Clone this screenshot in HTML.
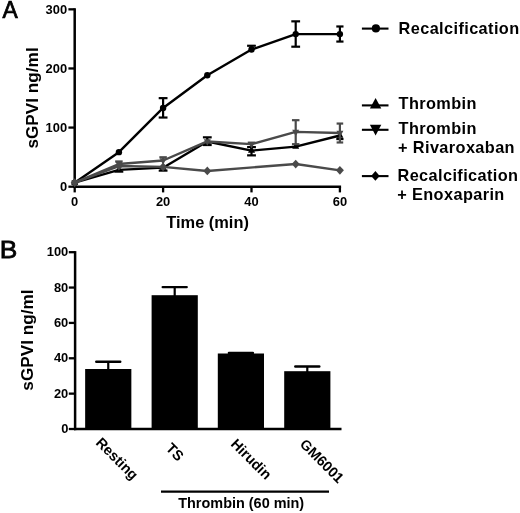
<!DOCTYPE html>
<html><head><meta charset="utf-8"><style>
html,body{margin:0;padding:0;background:#fff;}
body{width:520px;height:513px;overflow:hidden;font-family:"Liberation Sans",sans-serif;}
svg{display:block;will-change:transform;}
</style></head><body>
<svg width="520" height="513" viewBox="0 0 520 513" style="font-family:'Liberation Sans',sans-serif">
<text transform="translate(2.6,17.7) scale(0.93,1)" font-size="24.6" font-family="Liberation Sans, sans-serif" stroke="#000" stroke-width="0.75" stroke-linejoin="miter">A</text>
<line x1="74.7" y1="8.240000000000004" x2="74.7" y2="187.89999999999998" stroke="#000" stroke-width="2.5"/>
<line x1="73.5" y1="186.7" x2="341.09999999999997" y2="186.7" stroke="#000" stroke-width="2.5"/>
<line x1="68.4" y1="186.70" x2="74.7" y2="186.70" stroke="#000" stroke-width="2.3"/>
<text x="67.10000000000001" y="191.10" font-size="12.9" font-family="Liberation Sans, sans-serif" font-weight="bold" text-anchor="end">0</text>
<line x1="68.4" y1="127.58" x2="74.7" y2="127.58" stroke="#000" stroke-width="2.3"/>
<text x="67.10000000000001" y="131.98" font-size="12.9" font-family="Liberation Sans, sans-serif" font-weight="bold" text-anchor="end">100</text>
<line x1="68.4" y1="68.46" x2="74.7" y2="68.46" stroke="#000" stroke-width="2.3"/>
<text x="67.10000000000001" y="72.86" font-size="12.9" font-family="Liberation Sans, sans-serif" font-weight="bold" text-anchor="end">200</text>
<line x1="68.4" y1="9.34" x2="74.7" y2="9.34" stroke="#000" stroke-width="2.3"/>
<text x="67.10000000000001" y="13.74" font-size="12.9" font-family="Liberation Sans, sans-serif" font-weight="bold" text-anchor="end">300</text>
<line x1="74.70" y1="186.7" x2="74.70" y2="192.39999999999998" stroke="#000" stroke-width="2.3"/>
<text x="74.70" y="205.8" font-size="12.9" font-family="Liberation Sans, sans-serif" font-weight="bold" text-anchor="middle">0</text>
<line x1="163.10" y1="186.7" x2="163.10" y2="192.39999999999998" stroke="#000" stroke-width="2.3"/>
<text x="163.10" y="205.8" font-size="12.9" font-family="Liberation Sans, sans-serif" font-weight="bold" text-anchor="middle">20</text>
<line x1="251.50" y1="186.7" x2="251.50" y2="192.39999999999998" stroke="#000" stroke-width="2.3"/>
<text x="251.50" y="205.8" font-size="12.9" font-family="Liberation Sans, sans-serif" font-weight="bold" text-anchor="middle">40</text>
<line x1="339.90" y1="186.7" x2="339.90" y2="192.39999999999998" stroke="#000" stroke-width="2.3"/>
<text x="339.90" y="205.8" font-size="12.9" font-family="Liberation Sans, sans-serif" font-weight="bold" text-anchor="middle">60</text>
<text x="207.6" y="228.2" font-size="16.4" font-family="Liberation Sans, sans-serif" font-weight="bold" text-anchor="middle">Time (min)</text>
<text transform="translate(37.7,97.95) rotate(-90)" font-size="17.2" font-family="Liberation Sans, sans-serif" font-weight="bold" text-anchor="middle">sGPVI ng/ml</text>
<polyline points="74.70,182.68 118.90,152.17 163.10,107.95 207.30,75.20 251.50,49.54 295.70,34.11 339.90,34.11" fill="none" stroke="#000000" stroke-width="2.4" stroke-linejoin="round"/>
<line x1="163.10" y1="107.95" x2="163.10" y2="98.14" stroke="#000000" stroke-width="2.2"/>
<line x1="158.70" y1="98.14" x2="167.50" y2="98.14" stroke="#000000" stroke-width="2.2"/>
<line x1="163.10" y1="107.95" x2="163.10" y2="117.53" stroke="#000000" stroke-width="2.2"/>
<line x1="158.70" y1="117.53" x2="167.50" y2="117.53" stroke="#000000" stroke-width="2.2"/>
<line x1="251.50" y1="49.54" x2="251.50" y2="45.76" stroke="#000000" stroke-width="2.2"/>
<line x1="247.10" y1="45.76" x2="255.90" y2="45.76" stroke="#000000" stroke-width="2.2"/>
<line x1="295.70" y1="34.11" x2="295.70" y2="21.34" stroke="#000000" stroke-width="2.2"/>
<line x1="291.30" y1="21.34" x2="300.10" y2="21.34" stroke="#000000" stroke-width="2.2"/>
<line x1="295.70" y1="34.11" x2="295.70" y2="46.70" stroke="#000000" stroke-width="2.2"/>
<line x1="291.30" y1="46.70" x2="300.10" y2="46.70" stroke="#000000" stroke-width="2.2"/>
<line x1="339.90" y1="34.11" x2="339.90" y2="26.48" stroke="#000000" stroke-width="2.2"/>
<line x1="336.30" y1="26.48" x2="343.50" y2="26.48" stroke="#000000" stroke-width="2.2"/>
<line x1="339.90" y1="34.11" x2="339.90" y2="41.56" stroke="#000000" stroke-width="2.2"/>
<line x1="336.30" y1="41.56" x2="343.50" y2="41.56" stroke="#000000" stroke-width="2.2"/>
<circle cx="74.70" cy="182.68" r="3.2" fill="#000000"/>
<circle cx="118.90" cy="152.17" r="3.2" fill="#000000"/>
<circle cx="163.10" cy="107.95" r="3.2" fill="#000000"/>
<circle cx="207.30" cy="75.20" r="3.2" fill="#000000"/>
<circle cx="251.50" cy="49.54" r="3.2" fill="#000000"/>
<circle cx="295.70" cy="34.11" r="3.2" fill="#000000"/>
<circle cx="339.90" cy="34.11" r="3.2" fill="#000000"/>
<polyline points="74.70,182.68 118.90,169.85 163.10,167.66 207.30,141.47 251.50,150.64 295.70,146.62 339.90,135.50" fill="none" stroke="#000000" stroke-width="2.4" stroke-linejoin="round"/>
<line x1="118.90" y1="169.85" x2="118.90" y2="171.62" stroke="#000000" stroke-width="2.2"/>
<line x1="114.50" y1="171.62" x2="123.30" y2="171.62" stroke="#000000" stroke-width="2.2"/>
<line x1="163.10" y1="167.66" x2="163.10" y2="170.62" stroke="#000000" stroke-width="2.2"/>
<line x1="158.70" y1="170.62" x2="167.50" y2="170.62" stroke="#000000" stroke-width="2.2"/>
<line x1="207.30" y1="141.47" x2="207.30" y2="137.33" stroke="#000000" stroke-width="2.2"/>
<line x1="202.90" y1="137.33" x2="211.70" y2="137.33" stroke="#000000" stroke-width="2.2"/>
<line x1="207.30" y1="141.47" x2="207.30" y2="145.02" stroke="#000000" stroke-width="2.2"/>
<line x1="202.90" y1="145.02" x2="211.70" y2="145.02" stroke="#000000" stroke-width="2.2"/>
<line x1="251.50" y1="150.64" x2="251.50" y2="147.09" stroke="#000000" stroke-width="2.2"/>
<line x1="247.10" y1="147.09" x2="255.90" y2="147.09" stroke="#000000" stroke-width="2.2"/>
<line x1="251.50" y1="150.64" x2="251.50" y2="155.37" stroke="#000000" stroke-width="2.2"/>
<line x1="247.10" y1="155.37" x2="255.90" y2="155.37" stroke="#000000" stroke-width="2.2"/>
<line x1="339.90" y1="135.50" x2="339.90" y2="139.05" stroke="#000000" stroke-width="2.2"/>
<line x1="336.30" y1="139.05" x2="343.50" y2="139.05" stroke="#000000" stroke-width="2.2"/>
<path d="M71.20,184.85 L78.20,184.85 L74.70,178.35Z" fill="#000000"/>
<path d="M115.40,172.02 L122.40,172.02 L118.90,165.52Z" fill="#000000"/>
<path d="M159.60,169.83 L166.60,169.83 L163.10,163.33Z" fill="#000000"/>
<path d="M203.80,143.64 L210.80,143.64 L207.30,137.14Z" fill="#000000"/>
<path d="M248.00,152.80 L255.00,152.80 L251.50,146.30Z" fill="#000000"/>
<path d="M292.20,148.78 L299.20,148.78 L295.70,142.28Z" fill="#000000"/>
<path d="M336.40,137.67 L343.40,137.67 L339.90,131.17Z" fill="#000000"/>
<polyline points="74.70,182.68 118.90,164.00 163.10,160.51 207.30,141.47 251.50,144.13 295.70,131.90 339.90,133.02" fill="none" stroke="#4a4a4a" stroke-width="2.4" stroke-linejoin="round"/>
<line x1="118.90" y1="164.00" x2="118.90" y2="161.46" stroke="#4a4a4a" stroke-width="2.2"/>
<line x1="115.15" y1="161.46" x2="122.65" y2="161.46" stroke="#4a4a4a" stroke-width="2.2"/>
<line x1="163.10" y1="160.51" x2="163.10" y2="157.26" stroke="#4a4a4a" stroke-width="2.2"/>
<line x1="159.35" y1="157.26" x2="166.85" y2="157.26" stroke="#4a4a4a" stroke-width="2.2"/>
<line x1="251.50" y1="144.13" x2="251.50" y2="142.66" stroke="#4a4a4a" stroke-width="2.2"/>
<line x1="247.75" y1="142.66" x2="255.25" y2="142.66" stroke="#4a4a4a" stroke-width="2.2"/>
<line x1="295.70" y1="131.90" x2="295.70" y2="120.19" stroke="#4a4a4a" stroke-width="2.2"/>
<line x1="291.95" y1="120.19" x2="299.45" y2="120.19" stroke="#4a4a4a" stroke-width="2.2"/>
<line x1="295.70" y1="131.90" x2="295.70" y2="144.19" stroke="#4a4a4a" stroke-width="2.2"/>
<line x1="291.95" y1="144.19" x2="299.45" y2="144.19" stroke="#4a4a4a" stroke-width="2.2"/>
<line x1="339.90" y1="133.02" x2="339.90" y2="123.56" stroke="#4a4a4a" stroke-width="2.2"/>
<line x1="336.60" y1="123.56" x2="343.20" y2="123.56" stroke="#4a4a4a" stroke-width="2.2"/>
<line x1="339.90" y1="133.02" x2="339.90" y2="142.48" stroke="#4a4a4a" stroke-width="2.2"/>
<line x1="336.60" y1="142.48" x2="343.20" y2="142.48" stroke="#4a4a4a" stroke-width="2.2"/>
<path d="M71.20,180.51 L78.20,180.51 L74.70,187.01Z" fill="#4a4a4a"/>
<path d="M115.40,161.83 L122.40,161.83 L118.90,168.33Z" fill="#4a4a4a"/>
<path d="M159.60,158.34 L166.60,158.34 L163.10,164.84Z" fill="#4a4a4a"/>
<path d="M203.80,139.31 L210.80,139.31 L207.30,145.81Z" fill="#4a4a4a"/>
<path d="M248.00,141.97 L255.00,141.97 L251.50,148.47Z" fill="#4a4a4a"/>
<path d="M292.20,129.73 L299.20,129.73 L295.70,136.23Z" fill="#4a4a4a"/>
<path d="M336.40,130.85 L343.40,130.85 L339.90,137.35Z" fill="#4a4a4a"/>
<polyline points="74.70,182.68 118.90,166.01 163.10,166.89 207.30,170.97 295.70,164.06 339.90,170.32" fill="none" stroke="#4a4a4a" stroke-width="2.4" stroke-linejoin="round"/>
<path d="M70.70,182.68 L74.70,178.28 L78.70,182.68 L74.70,187.08Z" fill="#4a4a4a"/>
<path d="M114.90,166.01 L118.90,161.61 L122.90,166.01 L118.90,170.41Z" fill="#4a4a4a"/>
<path d="M159.10,166.89 L163.10,162.49 L167.10,166.89 L163.10,171.29Z" fill="#4a4a4a"/>
<path d="M203.30,170.97 L207.30,166.57 L211.30,170.97 L207.30,175.37Z" fill="#4a4a4a"/>
<path d="M291.70,164.06 L295.70,159.66 L299.70,164.06 L295.70,168.46Z" fill="#4a4a4a"/>
<path d="M335.90,170.32 L339.90,165.92 L343.90,170.32 L339.90,174.72Z" fill="#4a4a4a"/>
<line x1="361.9" y1="28.6" x2="388.5" y2="28.6" stroke="#000" stroke-width="2.1"/>
<circle cx="375.90" cy="28.40" r="4.1" fill="#000000"/>
<text x="398.6" y="34.0" font-size="16.3" font-family="Liberation Sans, sans-serif" font-weight="bold" letter-spacing="0.4">Recalcification</text>
<line x1="361.9" y1="105.4" x2="388.5" y2="105.4" stroke="#000" stroke-width="2.1"/>
<path d="M369.9,108.6 L381.3,108.6 L375.6,98.1Z" fill="#000"/>
<text x="398.6" y="108.5" font-size="16.3" font-family="Liberation Sans, sans-serif" font-weight="bold" letter-spacing="0.4">Thrombin</text>
<line x1="361.9" y1="129.8" x2="388.5" y2="129.8" stroke="#000" stroke-width="2.1"/>
<path d="M369.9,124.8 L381.3,124.8 L375.6,135.4Z" fill="#000"/>
<text x="398.6" y="134.2" font-size="16.3" font-family="Liberation Sans, sans-serif" font-weight="bold" letter-spacing="0.4">Thrombin</text>
<text x="398.0" y="153.4" font-size="16.3" font-family="Liberation Sans, sans-serif" font-weight="bold" letter-spacing="0.4">+ Rivaroxaban</text>
<line x1="361.9" y1="176.1" x2="388.5" y2="176.1" stroke="#000" stroke-width="2.1"/>
<path d="M371.10,175.90 L375.40,171.00 L379.70,175.90 L375.40,180.80Z" fill="#000000"/>
<text x="397.5" y="181.25" font-size="16.3" font-family="Liberation Sans, sans-serif" font-weight="bold" letter-spacing="0.4">Recalcification</text>
<text x="397.2" y="200.25" font-size="16.3" font-family="Liberation Sans, sans-serif" font-weight="bold" letter-spacing="0.4">+ Enoxaparin</text>
<text transform="translate(-0.3,257.75) scale(1.08,1)" font-size="24.4" font-family="Liberation Sans, sans-serif" stroke="#000" stroke-width="0.75" stroke-linejoin="miter">B</text>
<line x1="75.1" y1="251.1" x2="75.1" y2="430.2" stroke="#000" stroke-width="2.5"/>
<line x1="73.89999999999999" y1="429.0" x2="341.5" y2="429.0" stroke="#000" stroke-width="2.5"/>
<line x1="68.8" y1="429.00" x2="75.1" y2="429.00" stroke="#000" stroke-width="2.3"/>
<text x="68.3" y="433.10" font-size="12.9" font-family="Liberation Sans, sans-serif" font-weight="bold" text-anchor="end">0</text>
<line x1="68.8" y1="393.64" x2="75.1" y2="393.64" stroke="#000" stroke-width="2.3"/>
<text x="68.3" y="397.74" font-size="12.9" font-family="Liberation Sans, sans-serif" font-weight="bold" text-anchor="end">20</text>
<line x1="68.8" y1="358.28" x2="75.1" y2="358.28" stroke="#000" stroke-width="2.3"/>
<text x="68.3" y="362.38" font-size="12.9" font-family="Liberation Sans, sans-serif" font-weight="bold" text-anchor="end">40</text>
<line x1="68.8" y1="322.92" x2="75.1" y2="322.92" stroke="#000" stroke-width="2.3"/>
<text x="68.3" y="327.02" font-size="12.9" font-family="Liberation Sans, sans-serif" font-weight="bold" text-anchor="end">60</text>
<line x1="68.8" y1="287.56" x2="75.1" y2="287.56" stroke="#000" stroke-width="2.3"/>
<text x="68.3" y="291.66" font-size="12.9" font-family="Liberation Sans, sans-serif" font-weight="bold" text-anchor="end">80</text>
<line x1="68.8" y1="252.20" x2="75.1" y2="252.20" stroke="#000" stroke-width="2.3"/>
<text x="68.3" y="256.30" font-size="12.9" font-family="Liberation Sans, sans-serif" font-weight="bold" text-anchor="end">100</text>
<text transform="translate(32.9,340) rotate(-90)" font-size="17.2" font-family="Liberation Sans, sans-serif" font-weight="bold" text-anchor="middle">sGPVI ng/ml</text>
<rect x="85.15" y="369.0" width="46.2" height="60.00" fill="#000"/>
<line x1="108.25" y1="370.0" x2="108.25" y2="361.80" stroke="#000" stroke-width="2.2"/>
<line x1="96.25" y1="361.80" x2="120.25" y2="361.80" stroke="#000" stroke-width="2.4" stroke-linecap="round"/>
<rect x="151.60" y="295.2" width="46.2" height="133.80" fill="#000"/>
<line x1="174.70" y1="296.2" x2="174.70" y2="287.10" stroke="#000" stroke-width="2.2"/>
<line x1="162.70" y1="287.10" x2="186.70" y2="287.10" stroke="#000" stroke-width="2.4" stroke-linecap="round"/>
<rect x="217.80" y="353.5" width="46.2" height="75.50" fill="#000"/>
<line x1="240.90" y1="354.5" x2="240.90" y2="352.90" stroke="#000" stroke-width="2.2"/>
<line x1="228.90" y1="352.90" x2="252.90" y2="352.90" stroke="#000" stroke-width="2.4" stroke-linecap="round"/>
<rect x="284.20" y="371.2" width="46.2" height="57.80" fill="#000"/>
<line x1="307.30" y1="372.2" x2="307.30" y2="366.50" stroke="#000" stroke-width="2.2"/>
<line x1="295.30" y1="366.50" x2="319.30" y2="366.50" stroke="#000" stroke-width="2.4" stroke-linecap="round"/>
<text transform="translate(95.00,443.50) rotate(45)" font-size="14.4" font-family="Liberation Sans, sans-serif" font-weight="bold">Resting</text>
<text transform="translate(164.90,449.00) rotate(45)" font-size="14.4" font-family="Liberation Sans, sans-serif" font-weight="bold">TS</text>
<text transform="translate(230.00,444.80) rotate(45)" font-size="14.4" font-family="Liberation Sans, sans-serif" font-weight="bold">Hirudin</text>
<text transform="translate(299.00,445.00) rotate(45)" font-size="14.4" font-family="Liberation Sans, sans-serif" font-weight="bold">GM6001</text>
<line x1="161" y1="491.7" x2="329" y2="491.7" stroke="#000" stroke-width="2.2"/>
<text x="241.2" y="508.1" font-size="14.45" font-family="Liberation Sans, sans-serif" font-weight="bold" text-anchor="middle">Thrombin (60 min)</text>
</svg>
</body></html>
